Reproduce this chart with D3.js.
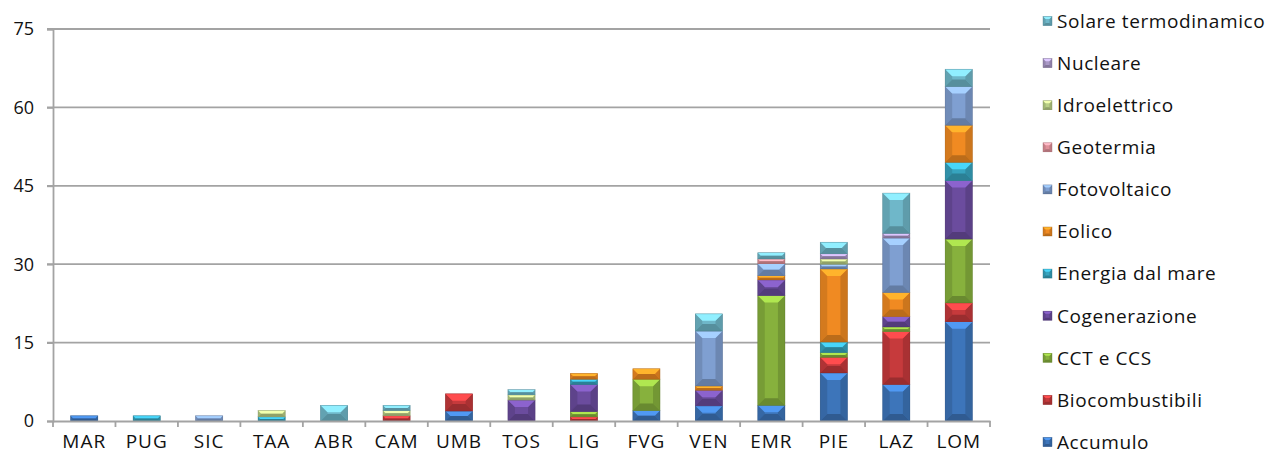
<!DOCTYPE html>
<html>
<head>
<meta charset="utf-8">
<script src="https://cdn.jsdelivr.net/npm/d3@7"></script>
<style>
  html, body { margin: 0; padding: 0; background: #ffffff; }
  svg { display: block; }
  text { font-family: "Open Sans", "DejaVu Sans", sans-serif; fill: #111; }
</style>
</head>
<body>
<svg id="chart" width="1280" height="455"></svg>
<script>
// Regions (x axis)
const regions = ["MAR","PUG","SIC","TAA","ABR","CAM","UMB","TOS","LIG","FVG","VEN","EMR","PIE","LAZ","LOM"];

// One array per technology, values per region
const accumulo      = [1, 0, 0, 0,   0, 0, 1.9, 0, 0,   2, 2.9, 3,   9.2, 7,    19];
const biocombust    = [0, 0, 0, 0,   0, 1, 3.3, 0, 0.8, 0, 0,   0,   3,   10.1, 3.6];
const cctCcs        = [0, 0, 0, 0,   0, 0, 0,   0, 1,   6, 0,   21,  0.9, 0.9,  12.2];
const cogenerazione = [0, 0, 0, 0,   0, 0, 0,   4, 5.2, 0, 3,   3,   0,   2,    11.2];
const energiaMare   = [0, 1, 0, 0.8, 0, 0, 0,   0, 1,   0, 0,   0,   2,   0,    3.5];
const eolico        = [0, 0, 0, 0,   0, 0, 0,   0, 1.1, 2, 0.8, 0.8, 14,  4.6,  7.1];
const fotovoltaico  = [0, 0, 1, 0,   0, 0, 0,   0, 0,   0, 10.5,2.3, 0.9, 10.4, 7.4];
const geotermia     = [0, 0, 0, 0,   0, 0, 0,   0, 0,   0, 0,   0.9, 0,   0,    0];
const idroelettrico = [0, 0, 0, 1.2, 0, 1, 0,   1, 0,   0, 0,   0,   1,   0,    0];
const nucleare      = [0, 0, 0, 0,   0, 0, 0,   0, 0,   0, 0,   0,   1,   0.9,  0];
const solareTermo   = [0, 0, 0, 0,   3, 1, 0,   1, 0,   0, 3.3, 1.2, 2.2, 7.7,  3.3];

const seriesNames = ["Accumulo","Biocombustibili","CCT e CCS","Cogenerazione","Energia dal mare",
  "Eolico","Fotovoltaico","Geotermia","Idroelettrico","Nucleare","Solare termodinamico"];
const seriesValues = [accumulo, biocombust, cctCcs, cogenerazione, energiaMare,
  eolico, fotovoltaico, geotermia, idroelettrico, nucleare, solareTermo];
const seriesColors = ["#3d75ba","#c63a3c","#87b13d","#6b4c9e","#37a4bf",
  "#f08a22","#7f9fd1","#e0919a","#b9cf86","#a998c6","#6fb7c9"];

const yTicks = [0, 15, 30, 45, 60, 75];

const svg = d3.select("#chart");
const plot = { left: 53, right: 990, top: 29, bottom: 421 };

const x = d3.scaleBand().domain(regions).range([plot.left, plot.right]).paddingInner(0.565).paddingOuter(0.2825);
const y = d3.scaleLinear().domain([0, 75]).range([plot.bottom, plot.top]);

const gridColor = "#a3a3a3";
const gridWidth = 1.8;

// Horizontal gridlines with ticks on the left
svg.append("g").selectAll("line").data(yTicks.filter(d => d > 0)).join("line")
  .attr("x1", plot.left - 6).attr("x2", plot.right)
  .attr("y1", d => y(d)).attr("y2", d => y(d))
  .attr("stroke", gridColor).attr("stroke-width", gridWidth);

// Y axis: line and ticks from d3, labels placed right-aligned
const yAxis = d3.axisLeft(y).tickValues(yTicks).tickSize(6).tickFormat("");
const gy = svg.append("g").attr("transform", `translate(${plot.left},0)`).call(yAxis);
gy.select(".domain").attr("stroke", gridColor).attr("stroke-width", gridWidth);
gy.selectAll(".tick line").attr("stroke", gridColor).attr("stroke-width", gridWidth);
svg.append("g").selectAll("text").data(yTicks).join("text")
  .attr("x", 34).attr("y", d => y(d)).attr("dy", "0.36em")
  .attr("text-anchor", "end")
  .style("font-size", "18px")
  .text(d => d3.format("d")(d));

// Stacked data
const table = regions.map((r, i) => {
  const row = { region: r };
  seriesNames.forEach((s, k) => row[s] = seriesValues[k][i]);
  return row;
});
const stacked = d3.stack().keys(seriesNames)(table);

// Bevelled segment: base block plus lit top, shaded bottom and sides
function bevel(g, x0, x1, yTop, yBot, color) {
  const w = x1 - x0, h = yBot - yTop;
  if (h <= 0) return;
  const b = Math.max(0.5, Math.min(7, h / 2, w / 3.5));
  const c = d3.color(color);
  g.append("rect").attr("x", x0).attr("y", yTop).attr("width", w).attr("height", h).attr("fill", c.formatHex());
  const poly = pts => pts.map(p => p.join(",")).join(" ");
  // left / right edges
  g.append("polygon").attr("points", poly([[x0,yTop],[x0+b,yTop+b],[x0+b,yBot-b],[x0,yBot]]))
    .attr("fill", c.darker(0.35).formatHex());
  g.append("polygon").attr("points", poly([[x1,yTop],[x1-b,yTop+b],[x1-b,yBot-b],[x1,yBot]]))
    .attr("fill", c.darker(0.45).formatHex());
  // top highlight
  g.append("polygon").attr("points", poly([[x0,yTop],[x1,yTop],[x1-b,yTop+b],[x0+b,yTop+b]]))
    .attr("fill", c.brighter(0.75).formatHex());
  // bottom shade
  g.append("polygon").attr("points", poly([[x0,yBot],[x1,yBot],[x1-b,yBot-b],[x0+b,yBot-b]]))
    .attr("fill", c.darker(0.7).formatHex());
  g.append("rect").attr("x", x0).attr("y", yTop).attr("width", w).attr("height", h)
    .attr("fill", "none").attr("stroke", c.darker(1.2).formatHex()).attr("stroke-width", 0.6).attr("stroke-opacity", 0.6);
}

const barsG = svg.append("g");
stacked.forEach((layer, k) => {
  layer.forEach((d, i) => {
    if (d[1] - d[0] <= 0) return;
    const x0 = x(regions[i]);
    bevel(barsG, x0, x0 + x.bandwidth(), y(d[1]), y(d[0]), seriesColors[k]);
  });
});

// X axis line with category separators
const xAxis = d3.axisBottom(x).tickSize(0).tickPadding(14);
const gx = svg.append("g").attr("transform", `translate(0,${plot.bottom})`).call(xAxis);
gx.select(".domain").attr("stroke", gridColor).attr("stroke-width", gridWidth);
gx.selectAll(".tick text").style("font-size", "19px").style("letter-spacing", "1px").attr("fill", "#111")
  .style("font-family", "'Open Sans', sans-serif");
const step = x.step();
svg.append("g").selectAll("line").data(d3.range(regions.length + 1)).join("line")
  .attr("x1", i => plot.left + i * step).attr("x2", i => plot.left + i * step)
  .attr("y1", plot.bottom).attr("y2", plot.bottom + 6)
  .attr("stroke", gridColor).attr("stroke-width", gridWidth);

// Legend (top entry is the last series)
const legendOrder = seriesNames.map((n, k) => ({ name: n, color: seriesColors[k] })).reverse();
const legend = svg.append("g");
const legY = d3.scalePoint().domain(legendOrder.map(d => d.name)).range([21, 442]);
legendOrder.forEach(d => {
  const cy = legY(d.name);
  const lg = legend.append("g");
  bevel(lg, 1043, 1052, cy - 4.5, cy + 4.5, d.color);
  lg.append("text").attr("x", 1057).attr("y", cy).attr("dy", "0.36em")
    .style("font-size", "19px").style("letter-spacing", "0.6px").text(d.name);
});
</script>
</body>
</html>
